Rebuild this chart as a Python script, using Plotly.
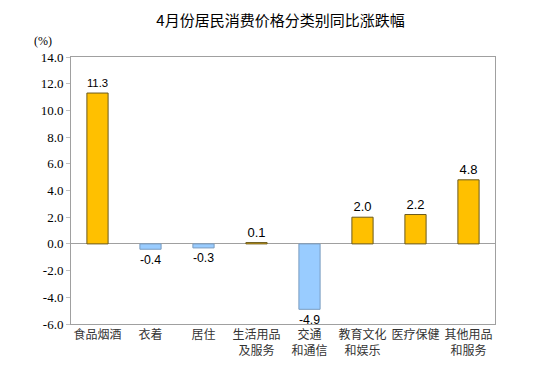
import plotly.graph_objects as go

categories = ["食品烟酒", "衣着", "居住", "生活用品<br>及服务", "交通<br>和通信", "教育文化<br>和娱乐", "医疗保健", "其他用品<br>和服务"]
values = [11.3, -0.4, -0.3, 0.1, -4.9, 2.0, 2.2, 4.8]
tick_vals = [-6, -4, -2, 0, 2, 4, 6, 8, 10, 12, 14]
tick_text = ["%.1f" % v for v in tick_vals]

pos_color = "#FFC000"
neg_color = "#99CCFF"
colors = [pos_color if v >= 0 else neg_color for v in values]
line_colors = ["#6B5A1E" if v >= 0 else "#7A9CC0" for v in values]

SERIF = "'Times New Roman', 'Liberation Serif', 'DejaVu Serif', serif"

fig = go.Figure()
fig.add_trace(go.Bar(
    x=categories, y=values,
    marker=dict(color=colors, line=dict(color=line_colors, width=1)),
    width=0.4,
    text=["%.1f" % v for v in values],
    textposition="outside",
    textfont=dict(family="Liberation Sans", size=13, color="#000"),
    cliponaxis=False,
))

fig.update_layout(
    width=550, height=370,
    margin=dict(l=71, r=55, t=57, b=46),
    paper_bgcolor="white", plot_bgcolor="white",
    showlegend=False,
    title=dict(text="4月份居民消费价格分类别同比涨跌幅", x=0.51, xanchor="center",
               y=0.945, yanchor="middle",
               font=dict(family="Noto Sans CJK SC", size=15, color="#000")),
    xaxis=dict(showline=True, linecolor="#A0A0A0", linewidth=1, mirror=True,
               ticks="", tickfont=dict(family="Noto Sans CJK SC", size=12, color="#333"),
               tickangle=0),
    yaxis=dict(range=[-6, 14], tickvals=tick_vals, ticktext=tick_text,
               showline=True, linecolor="#A0A0A0", linewidth=1, mirror=True,
               ticks="outside", ticklen=4, tickcolor="#C0C0C0",
               showgrid=False, zeroline=True, zerolinecolor="#A0A0A0", zerolinewidth=1,
               tickfont=dict(family=SERIF, size=13, color="#000")),
    bargap=0.6,
)

fig.add_annotation(text="(%)", xref="paper", yref="paper", x=-0.065, y=1.06,
                   xanchor="center", yanchor="middle", showarrow=False,
                   font=dict(family=SERIF, size=12, color="#000"))

fig.write_html("out.html", config={"displayModeBar": False},
               post_script="document.body.style.margin='0';")
